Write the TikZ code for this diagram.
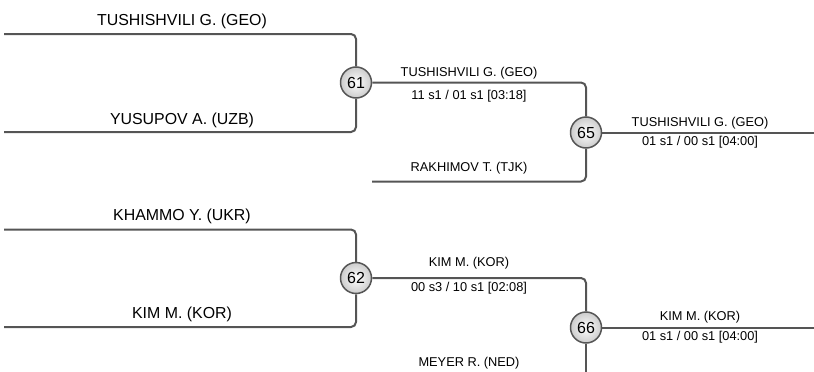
\documentclass[tikz,border=0pt]{standalone}
\usepackage{fontspec}
\setmainfont{Liberation Sans}
\definecolor{linegray}{RGB}{85,85,85}
\begin{document}
\begin{tikzpicture}[x=1pt,y=-1pt,
  bracket/.style={draw=linegray,line width=2pt,rounded corners=5pt},
  matchnode/.style={circle,draw=linegray,line width=1.5pt,minimum size=31pt,inner sep=0pt,
    inner color=white,outer color=black!20,font=\fontsize{16}{18}\selectfont},
  bigname/.style={anchor=base,inner sep=0pt,font=\fontsize{15.9}{18}\selectfont},
  smallname/.style={anchor=base,inner sep=0pt,font=\fontsize{12.8}{15}\selectfont}]
\useasboundingbox (0,0) rectangle (814,372);
% coordinates
\coordinate (a1) at (4,34);
\coordinate (a2) at (4,132);
\coordinate (b1) at (4,229.5);
\coordinate (b2) at (4,327);
\coordinate (r1) at (372,181.5);
\coordinate (mb) at (586,374);
\coordinate (e65) at (814,132.5);
\coordinate (e66) at (814,327.5);
% match circles
\node[matchnode] (c61) at (356,82.5) {61};
\node[matchnode] (c65) at (586,132.5) {65};
\node[matchnode] (c62) at (356,278) {62};
\node[matchnode] (c66) at (586,327.5) {66};
% connectors
\draw[bracket] (a1) -| (c61);
\draw[bracket] (a2) -| (c61);
\draw[bracket] (c61) -| (c65);
\draw[bracket] (r1) -| (c65);
\draw[bracket] (c65) -- (e65);
\draw[bracket] (b1) -| (c62);
\draw[bracket] (b2) -| (c62);
\draw[bracket] (c62) -| (c66);
\draw[bracket] (c66) -- (mb);
\draw[bracket] (c66) -- (e66);
% labels
\node[bigname] (n1) at (182,25.5) {TUSHISHVILI G. (GEO)};
\node[bigname] (n2) at (182,124) {YUSUPOV A. (UZB)};
\node[bigname] (n3) at (182,220.5) {KHAMMO Y. (UKR)};
\node[bigname] (n4) at (182,318.5) {KIM M. (KOR)};
\node[smallname] (w61) at (469,76.5) {TUSHISHVILI G. (GEO)};
\node[smallname] (s61) at (469,99) {11 s1 / 01 s1 [03:18]};
\node[smallname] (n5) at (469,171) {RAKHIMOV T. (TJK)};
\node[smallname] (w65) at (700,126.5) {TUSHISHVILI G. (GEO)};
\node[smallname] (s65) at (700,145) {01 s1 / 00 s1 [04:00]};
\node[smallname] (w62) at (469,266.5) {KIM M. (KOR)};
\node[smallname] (s62) at (469,291.5) {00 s3 / 10 s1 [02:08]};
\node[smallname] (n6) at (469,366.5) {MEYER R. (NED)};
\node[smallname] (w66) at (700,320.5) {KIM M. (KOR)};
\node[smallname] (s66) at (700,340) {01 s1 / 00 s1 [04:00]};
\end{tikzpicture}
\end{document}
